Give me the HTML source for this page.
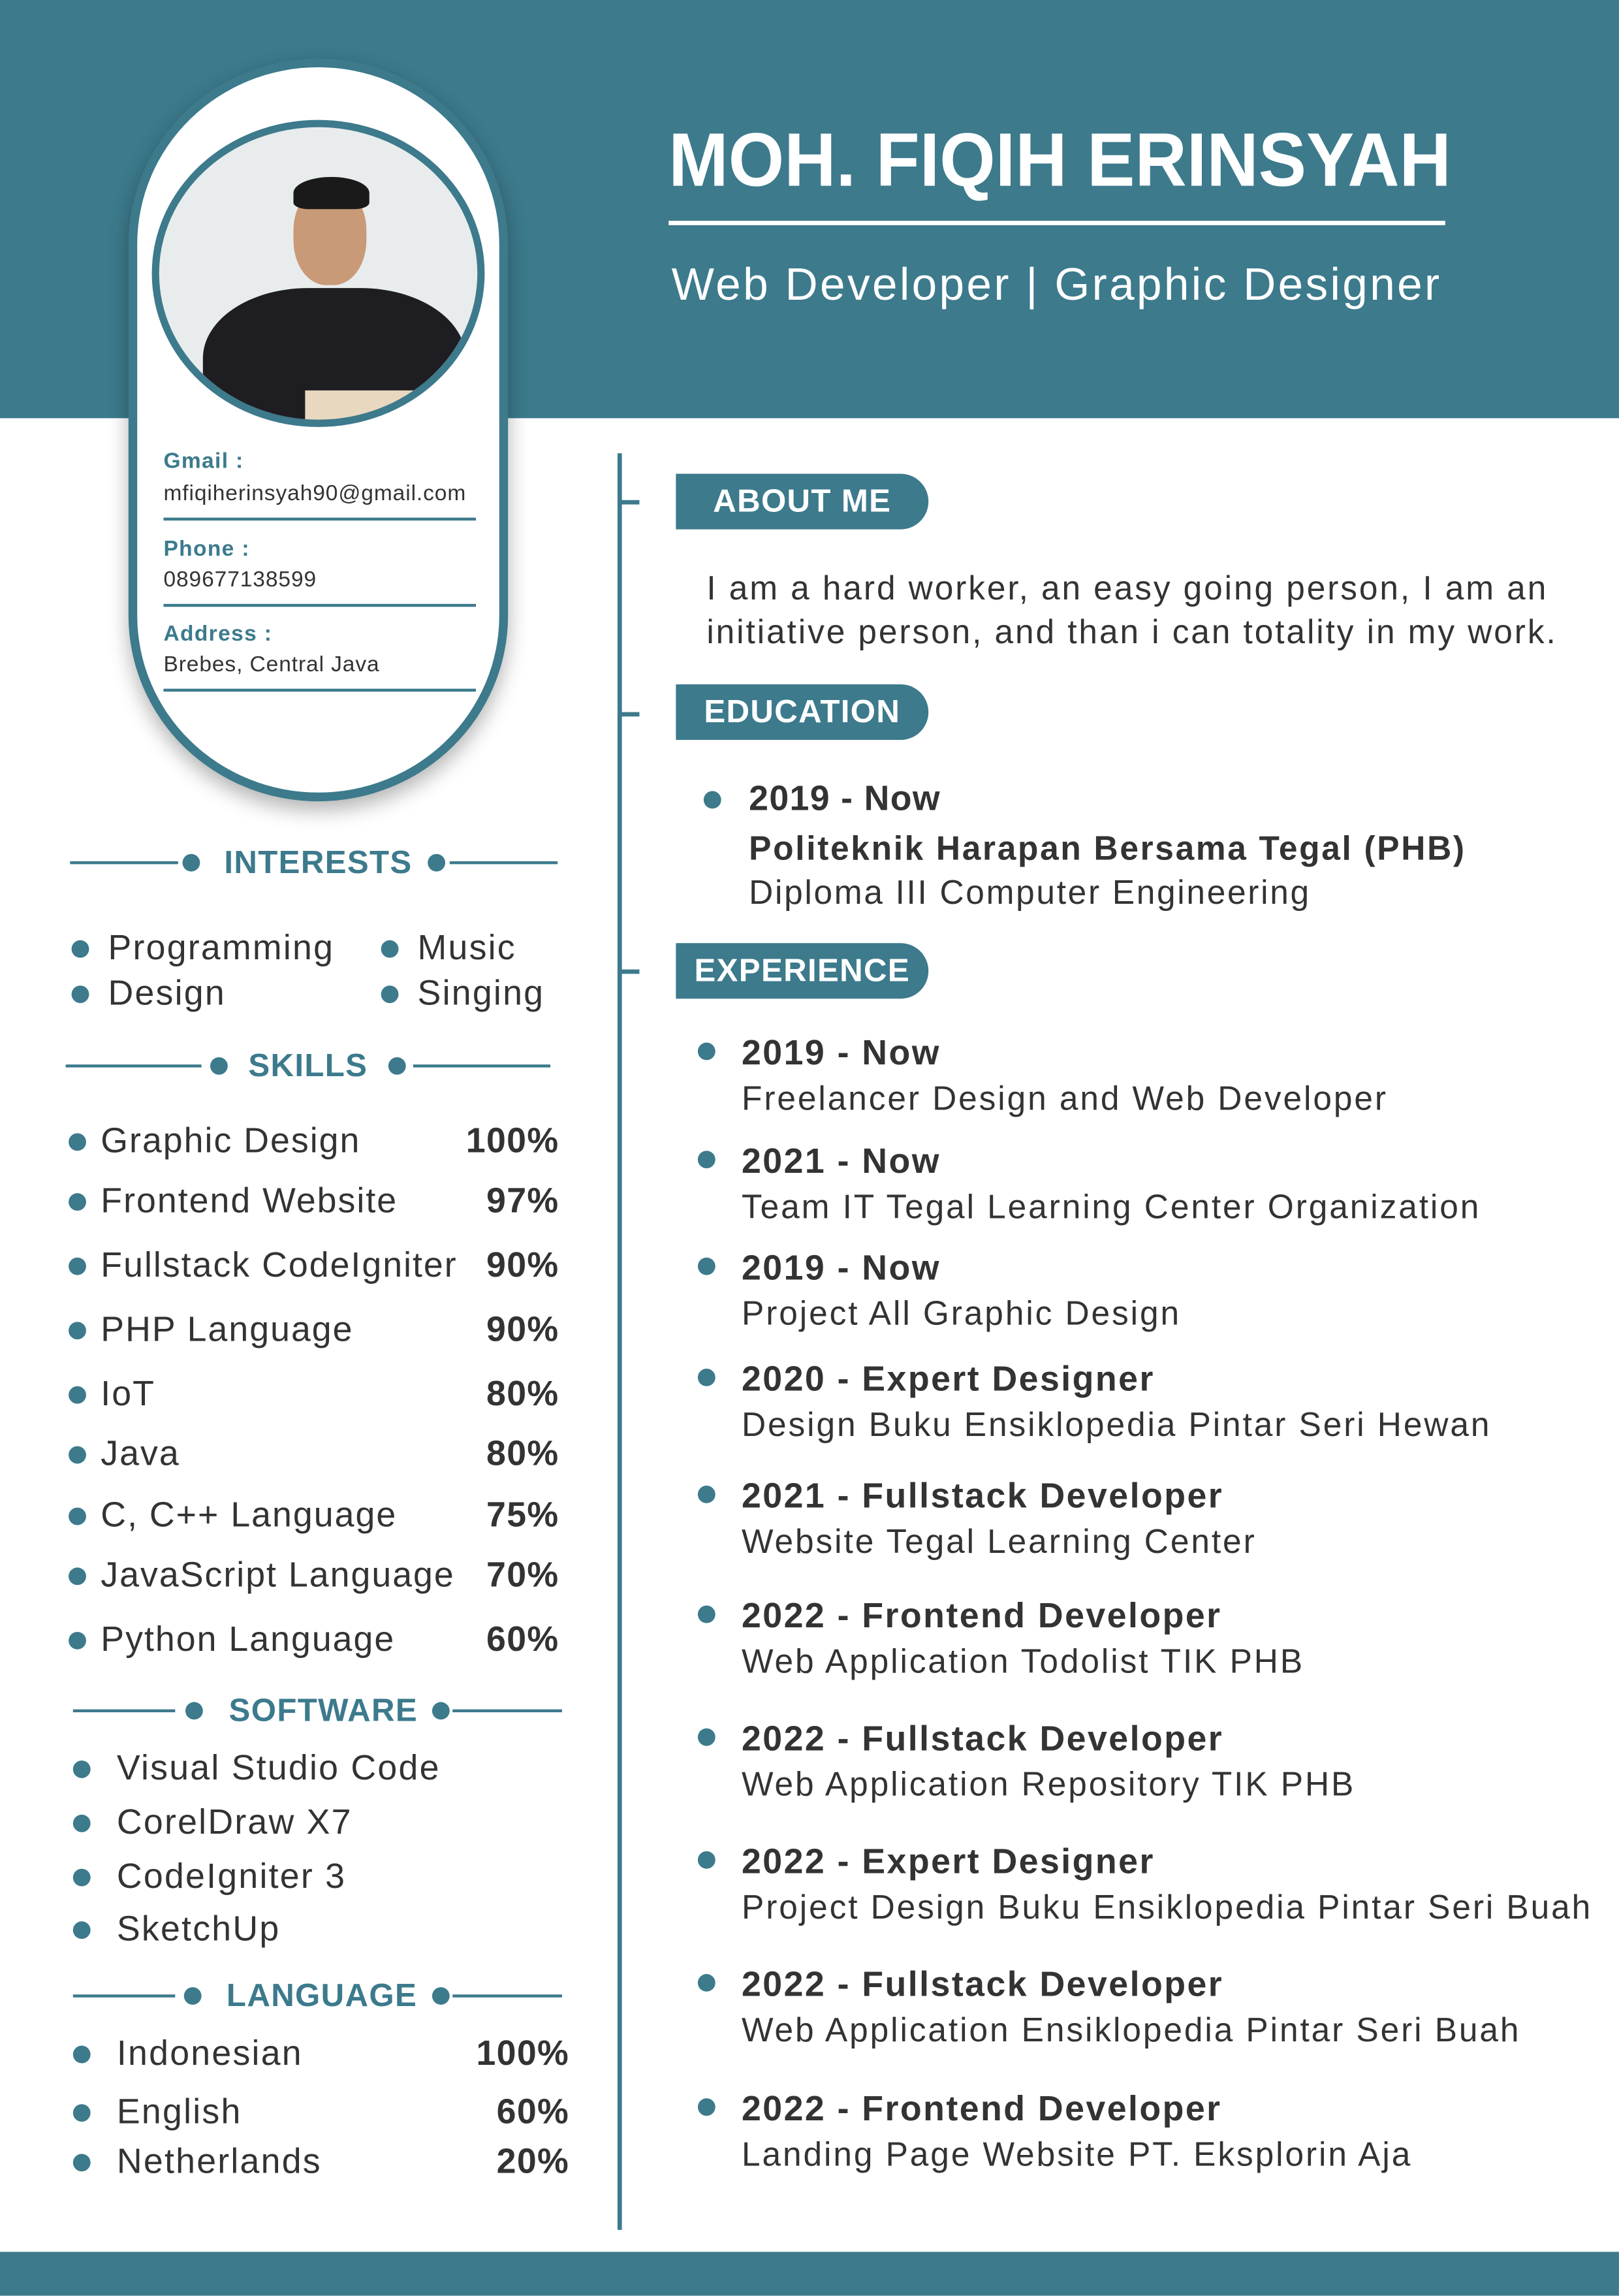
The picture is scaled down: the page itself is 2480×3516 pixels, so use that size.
<!DOCTYPE html>
<html><head><meta charset="utf-8"><style>
html,body{margin:0;padding:0;background:#fff;}
body{width:2480px;height:3511px;overflow:hidden;position:relative;}
#pg{position:absolute;left:0;top:0;width:1109px;height:1568px;transform:scale(2.2362,2.2392);transform-origin:0 0;font-family:"Liberation Sans",sans-serif;color:#333;letter-spacing:0.6px;}
.a{position:absolute;white-space:nowrap;}
.t{color:#3c7a8c;}
.b{font-weight:bold;}
.dot{position:absolute;width:12px;height:12px;border-radius:50%;background:#3c7a8c;}
.ln{position:absolute;height:2px;background:#3c7a8c;}
.pill{position:absolute;left:463px;width:173px;height:38px;background:#3c7a8c;border-radius:0 19px 19px 0;color:#fff;font-weight:bold;font-size:22px;line-height:38px;text-align:center;}
.tick{position:absolute;left:424px;width:14px;height:3px;background:#3c7a8c;}
</style></head><body>
<div id="pg">
<div class="a" style="left:0;top:0;width:1109px;height:286px;background:#3c7a8c"></div>
<div class="a" style="left:0;top:1540px;width:1109px;height:30px;background:#3c7a8c"></div>
<div class="a" style="left:88px;top:40px;width:248px;height:496px;border:6px solid #3c7a8c;border-radius:50% / 25%;background:#fff;box-shadow:0 6px 14px rgba(0,0,0,.3)"></div>
<div class="a" style="left:104px;top:82px;width:218px;height:200px;border:5px solid #3c7a8c;border-radius:50%;overflow:hidden;background:#e8ecec">
<div style="position:absolute;left:30px;top:110px;width:180px;height:120px;background:#1e1e22;border-radius:40% 40% 0 0"></div>
<div style="position:absolute;left:92px;top:40px;width:50px;height:68px;background:#c99a78;border-radius:45%"></div>
<div style="position:absolute;left:92px;top:34px;width:52px;height:22px;background:#1a1a1a;border-radius:50% 50% 20% 20%"></div>
<div style="position:absolute;left:100px;top:180px;width:110px;height:30px;background:#e8d8c0"></div>
</div>
<div class="a t b" style="left:112px;top:307px;font-size:15px">Gmail :</div>
<div class="a" style="left:112px;top:329px;font-size:15px;letter-spacing:0.4px">mfiqiherinsyah90@gmail.com</div>
<div class="ln" style="left:112px;top:354px;width:214px;height:1.5px"></div>
<div class="a t b" style="left:112px;top:367px;font-size:15px">Phone :</div>
<div class="a" style="left:112px;top:388px;font-size:15px;letter-spacing:0.4px">089677138599</div>
<div class="ln" style="left:112px;top:413px;width:214px;height:1.5px"></div>
<div class="a t b" style="left:112px;top:425px;font-size:15px">Address :</div>
<div class="a" style="left:112px;top:446px;font-size:15px;letter-spacing:0.4px">Brebes, Central Java</div>
<div class="ln" style="left:112px;top:471px;width:214px;height:1.5px"></div>

<div class="a b" style="left:458px;top:80px;font-size:52px;color:#fff;letter-spacing:0;transform:scaleX(0.945);transform-origin:0 0">MOH. FIQIH ERINSYAH</div>
<div class="ln" style="left:458px;top:151px;width:532px;height:3px;background:#fff"></div>
<div class="a" style="left:460px;top:177px;font-size:31px;color:#fff;letter-spacing:1.5px">Web Developer | Graphic Designer</div>

<div class="a" style="left:423px;top:310px;width:3px;height:1215px;background:#3c7a8c"></div>
<div class="tick" style="top:342px"></div>
<div class="tick" style="top:487px"></div>
<div class="tick" style="top:663px"></div>

<div class="pill" style="top:324px">ABOUT ME</div>
<div class="a" style="left:484px;top:387px;font-size:23px;line-height:30px;letter-spacing:1.3px">I am a hard worker, an easy going person, I am an<br>initiative person, and than i can totality in my work.</div>
<div class="pill" style="top:468px">EDUCATION</div>
<div class="dot" style="left:482px;top:541px"></div>
<div class="a b" style="left:513px;top:533px;font-size:24px">2019 - Now</div>
<div class="a b" style="left:513px;top:567px;font-size:23px;letter-spacing:1.2px">Politeknik Harapan Bersama Tegal (PHB)</div>
<div class="a" style="left:513px;top:597px;font-size:23px;letter-spacing:1.2px">Diploma III Computer Engineering</div>
<div class="pill" style="top:645px">EXPERIENCE</div>

</div>
<script>
const expTitles=["2019 - Now","2021 - Now","2019 - Now","2020 - Expert Designer","2021 - Fullstack Developer","2022 - Frontend Developer","2022 - Fullstack Developer","2022 - Expert Designer","2022 - Fullstack Developer","2022 - Frontend Developer"];
const expDescs=["Freelancer Design and Web Developer","Team IT Tegal Learning Center Organization","Project All Graphic Design","Design Buku Ensiklopedia Pintar Seri Hewan","Website Tegal Learning Center","Web Application Todolist TIK PHB","Web Application Repository TIK PHB","Project Design Buku Ensiklopedia Pintar Seri Buah","Web Application Ensiklopedia Pintar Seri Buah","Landing Page Website PT. Eksplorin Aja"];
const expY=[721,795,868,944,1024,1106,1190,1274,1358,1443];
const skills=["Graphic Design","Frontend Website","Fullstack CodeIgniter","PHP Language","IoT","Java","C, C++ Language","JavaScript Language","Python Language"];
const skillPct=[100,97,90,90,80,80,75,70,60];
const skillY=[781,822,866,910,954,995,1037,1078,1122];
const software=["Visual Studio Code","CorelDraw X7","CodeIgniter 3","SketchUp"];
const softY=[1210,1247,1284,1320];
const langs=["Indonesian","English","Netherlands"];
const langPct=[100,60,20];
const langY=[1405,1445,1479];
const pg=document.getElementById('pg');
function mk(cls,style,txt){const d=document.createElement('div');d.className=cls;d.style.cssText=style;if(txt!==undefined)d.textContent=txt;pg.appendChild(d);return d;}
expTitles.forEach((t,i)=>{const y=expY[i];
let d=mk('dot','left:478px;top:'+(y-8)+'px');


d=mk('a b','left:508px;top:'+(y-14)+'px;font-size:24px;letter-spacing:1.1px',t);


d=mk('a','left:508px;top:'+(y+17)+'px;font-size:23px;letter-spacing:1.3px',expDescs[i]);

});
function header(txt,y,l1,l2,d1,tx,tw,d2,l3,l4,name){
let d=mk('ln','left:'+l1+'px;top:'+(y-1)+'px;width:'+(l2-l1)+'px');


d=mk('dot','left:'+(d1-6)+'px;top:'+(y-6)+'px');


d=mk('a t b','left:'+tx+'px;top:'+(y-13)+'px;width:'+tw+'px;text-align:center;font-size:22px',txt);


d=mk('dot','left:'+(d2-6)+'px;top:'+(y-6)+'px');


d=mk('ln','left:'+l3+'px;top:'+(y-1)+'px;width:'+(l4-l3)+'px');

}
header('INTERESTS',590,48,122,131,145,146,299,308,382,'interests');
header('SKILLS',729,45,138,150,160,102,272,283,377,'skills');
header('SOFTWARE',1170,50,120,133,145,153,302,310,385,'software');
header('LANGUAGE',1365,50,120,132,145,151,302,310,385,'language');
[["Programming",55,74,649],["Design",55,74,680],["Music",267,286,649],["Singing",267,286,680]].forEach(r=>{
let d=mk('dot','left:'+(r[1]-6)+'px;top:'+(r[3]-6)+'px');


d=mk('a','left:'+r[2]+'px;top:'+(r[3]-14)+'px;font-size:24px;letter-spacing:1px',r[0]);

});
skills.forEach((s,i)=>{const y=skillY[i];
let d=mk('dot','left:47px;top:'+(y-6)+'px');


d=mk('a','left:69px;top:'+(y-14)+'px;font-size:24px;letter-spacing:0.9px',s);


d=mk('a b','left:283px;width:100px;text-align:right;top:'+(y-14)+'px;font-size:24px',skillPct[i]+'%');

});
software.forEach((s,i)=>{const y=softY[i];
let d=mk('dot','left:50px;top:'+(y-6)+'px');


d=mk('a','left:80px;top:'+(y-14)+'px;font-size:24px;letter-spacing:1px',s);

});
langs.forEach((s,i)=>{const y=langY[i];
let d=mk('dot','left:50px;top:'+(y-6)+'px');


d=mk('a','left:80px;top:'+(y-14)+'px;font-size:24px;letter-spacing:1px',s);


d=mk('a b','left:290px;width:100px;text-align:right;top:'+(y-14)+'px;font-size:24px',langPct[i]+'%');

});
</script>
</body></html>
